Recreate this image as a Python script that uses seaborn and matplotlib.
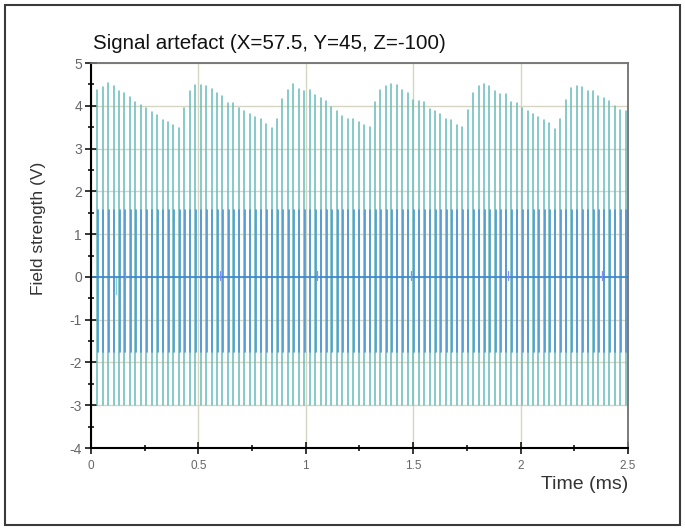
import numpy as np
import pandas as pd
import matplotlib.pyplot as plt
import seaborn as sns
from matplotlib.patches import Rectangle
from matplotlib.ticker import MultipleLocator, FuncFormatter

times = np.linspace(0.029, 2.489, 98)
peak_top = [4.38, 4.44, 4.53, 4.46, 4.35, 4.31, 4.21, 4.09, 4.01, 3.94,
            3.86, 3.78, 3.67, 3.63, 3.55, 3.47, 3.96, 4.35, 4.48, 4.48,
            4.46, 4.39, 4.29, 4.22, 4.07, 4.07, 3.95, 3.88, 3.80, 3.73,
            3.70, 3.58, 3.47, 3.68, 4.15, 4.38, 4.50, 4.40, 4.34, 4.36,
            4.26, 4.19, 4.11, 3.98, 3.88, 3.77, 3.70, 3.68, 3.63, 3.55,
            3.50, 4.10, 4.38, 4.47, 4.50, 4.48, 4.38, 4.29, 4.14, 4.11,
            4.08, 3.93, 3.87, 3.81, 3.70, 3.66, 3.55, 3.51, 3.89, 4.30,
            4.47, 4.52, 4.46, 4.34, 4.28, 4.27, 4.10, 4.07, 3.96, 3.88,
            3.81, 3.73, 3.66, 3.60, 3.45, 3.70, 4.14, 4.41, 4.46, 4.45,
            4.34, 4.34, 4.23, 4.19, 4.12, 4.00, 3.91, 3.88]
teal_low = -3.0
blue_high = 1.57
blue_low = -1.76

# small disturbances on the baseline
blip_times = [0.16, 0.60, 1.05, 1.49, 1.94, 2.38]
blip_high = 0.14
blip_low = -0.08
spike_time = 0.118
spike_low = -0.39

TEAL = '#6cbdbd'
BLUE = '#4f96d6'


def stems(ts, lows, highs):
    rows = []
    for i, (t, lo, hi) in enumerate(zip(ts, lows, highs)):
        rows.append((i, t, lo))
        rows.append((i, t, hi))
    return pd.DataFrame(rows, columns=['unit', 'time', 'value'])


n = len(times)
teal_df = stems(times, [teal_low] * n, peak_top)
blue_df = stems(times + 0.003, [blue_low] * n, [blue_high] * n)
blip_df = stems(blip_times, [blip_low] * len(blip_times), [blip_high] * len(blip_times))
spike_df = stems([spike_time], [spike_low], [0.0])
base_df = pd.DataFrame({'time': [0.0, 2.5], 'value': [0.0, 0.0]})

sns.set_style('white')
plt.rcParams['font.family'] = ['Liberation Sans', 'DejaVu Sans']
plt.rcParams['axes.unicode_minus'] = False

fig = plt.figure(figsize=(6.85, 5.30), dpi=100)
ax = fig.add_axes([0.1328, 0.1547, 0.784, 0.7264])

sns.lineplot(data=teal_df, x='time', y='value', units='unit', estimator=None,
             sort=False, color=TEAL, lw=1.15, ax=ax, legend=False)
sns.lineplot(data=blue_df, x='time', y='value', units='unit', estimator=None,
             sort=False, color=BLUE, lw=1.2, ax=ax, legend=False)
sns.lineplot(data=spike_df, x='time', y='value', units='unit', estimator=None,
             sort=False, color='#8fcfcf', lw=1.0, ax=ax, legend=False)
sns.lineplot(data=base_df, x='time', y='value', color='#3a86cc', lw=1.2,
             ax=ax, legend=False)
sns.lineplot(data=blip_df, x='time', y='value', units='unit', estimator=None,
             sort=False, color='#8a8af0', lw=0.9, ax=ax, legend=False)

ax.set_xlim(0, 2.5)
ax.set_ylim(-4, 5)
ax.xaxis.set_major_locator(MultipleLocator(0.5))
ax.xaxis.set_minor_locator(MultipleLocator(0.25))
ax.yaxis.set_major_locator(MultipleLocator(1))
ax.yaxis.set_minor_locator(MultipleLocator(0.5))
ax.xaxis.set_major_formatter(FuncFormatter(lambda v, p: f'{v:g}'))
ax.yaxis.set_major_formatter(FuncFormatter(lambda v, p: f'{v:g}'))

ax.grid(True, which='major', color='#d5d5c2', lw=1.0)
ax.set_axisbelow(True)

ax.tick_params(which='both', bottom=True, left=True, top=False, right=False)
ax.tick_params(which='major', direction='inout', length=9, width=1.1,
               color='black', labelcolor='#666666')
ax.tick_params(which='minor', direction='inout', length=5, width=1.1,
               color='black')
ax.tick_params(axis='y', which='major', labelsize=10, pad=2)
ax.tick_params(axis='x', which='major', labelsize=8.5, pad=4)

for side in ['left', 'bottom']:
    ax.spines[side].set_color('black')
    ax.spines[side].set_linewidth(1.5)
for side in ['top', 'right']:
    ax.spines[side].set_visible(True)
    ax.spines[side].set_color('#707070')
    ax.spines[side].set_linewidth(1.3)

ax.set_title('Signal artefact (X=57.5, Y=45, Z=-100)', loc='left',
             fontsize=14.8, color='#111111', pad=10, x=0.004)
ax.set_xlabel('Time (ms)', fontsize=14, color='#333333', ha='right', va='center')
ax.xaxis.set_label_coords(1.0, -0.094)
ax.set_ylabel('Field strength (V)', fontsize=12.5, color='#333333', va='center')
ax.yaxis.set_label_coords(-0.098, 0.57)

fig.patches.append(Rectangle((5 / 685, 5 / 530), 675 / 685, 520 / 530,
                             transform=fig.transFigure, fill=False,
                             edgecolor='#3a3a3a', lw=1.5))

plt.savefig('out.png', dpi=100)
